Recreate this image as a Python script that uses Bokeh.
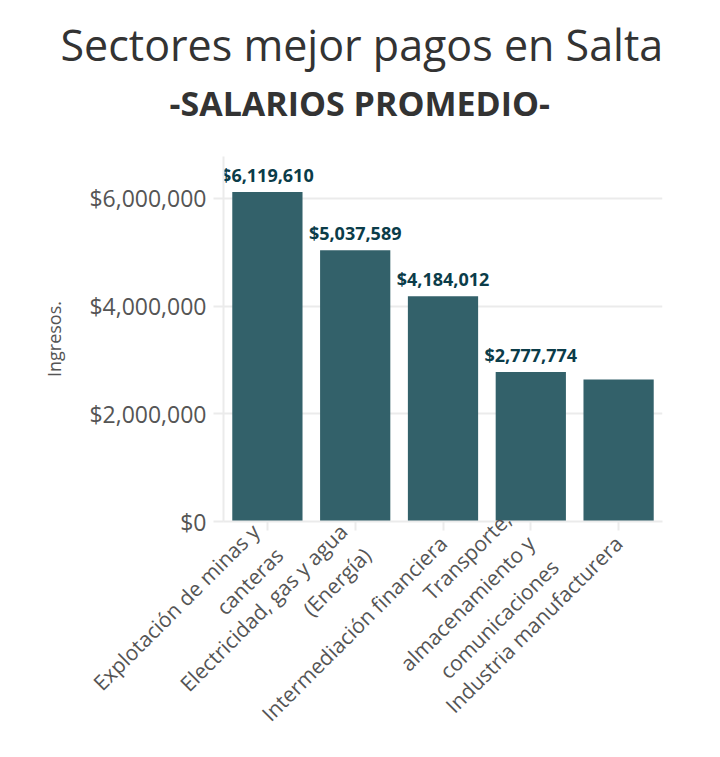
import math
from bokeh.plotting import figure
from bokeh.models import ColumnDataSource, NumeralTickFormatter, Title, FixedTicker, Range1d, FactorRange
from bokeh.core.properties import value
from bokeh.embed import file_html
from bokeh.resources import INLINE

categories = [
    "Explotación de minas y\ncanteras",
    "Electricidad, gas y agua\n(Energía)",
    "Intermediación financiera",
    "Transporte,\nalmacenamiento y\ncomunicaciones",
    "Industria manufacturera",
]
salaries = [6119610, 5037589, 4184012, 2777774, 2640000]
show_label = [True, True, True, True, False]
y_ticks = [0, 2000000, 4000000, 6000000]
title_text = "Sectores mejor pagos en Salta"
subtitle_text = "-SALARIOS PROMEDIO-"
y_label = "Ingresos."

FONT = "Open Sans"
GRAY = "#555555"

# --- helper to right-justify the multi-line rotated tick labels --------------
_W = {" ": .26, ",": .245, "(": .296, ")": .296, "E": .556, "T": .549, "I": .279,
      "a": .556, "c": .482, "d": .613, "e": .561, "g": .547, "i": .253, "í": .253,
      "l": .253, "m": .93, "n": .613, "o": .604, "ó": .604, "p": .613, "r": .408,
      "s": .477, "t": .353, "u": .613, "x": .522, "y": .5, "f": .336}
NBSP_W = .26


def _width(s):
    return sum(_W.get(ch, .55) for ch in s)


def justify_right(label):
    lines = label.split("\n")
    wmax = max(_width(l) for l in lines)
    return "\n".join("\u00a0" * int(round((wmax - _width(l)) / NBSP_W)) + l
                     for l in lines)


display = [justify_right(c) for c in categories]
labels = [f"${v:,}" if s else "" for v, s in zip(salaries, show_label)]
source = ColumnDataSource(dict(cat=display, val=salaries, label=labels))

p = figure(width=720, height=757,
           x_range=FactorRange(factors=display),
           y_range=Range1d(0, 6780000),
           output_backend="svg", toolbar_location=None,
           min_border_left=223, min_border_right=58,
           min_border_top=156, min_border_bottom=236)
p.outline_line_color = None
p.background_fill_color = "white"
p.border_fill_color = "white"

p.add_layout(Title(text=subtitle_text, align="left", offset=-54, text_font=FONT,
                   text_font_size="34px", text_font_style="bold",
                   text_color="#333333", standoff=62), "above")
p.add_layout(Title(text=title_text, align="left", offset=-163, text_font=FONT,
                   text_font_size="43px", text_font_style="normal",
                   text_color="#333333", standoff=-54), "above")

p.vbar(x="cat", top="val", bottom=0, width=0.8, source=source,
       fill_color="#33616a", line_color=None)
p.text(x="cat", y="val", text="label", source=source,
       text_align="center", text_baseline="bottom", y_offset=-5,
       text_font=value(FONT), text_font_size="18px", text_font_style="bold",
       text_color="#0b3c49")

p.xgrid.visible = False
p.ygrid.ticker = FixedTicker(ticks=y_ticks)
p.ygrid.grid_line_color = "#ebebeb"
p.ygrid.grid_line_width = 2

ya = p.yaxis[0]
ya.ticker = FixedTicker(ticks=y_ticks)
ya.formatter = NumeralTickFormatter(format="$0,0")
ya.major_label_text_font = FONT
ya.major_label_text_font_size = "23px"
ya.major_label_text_color = GRAY
ya.axis_line_color = "#ebebeb"
ya.axis_line_width = 2
ya.major_tick_line_color = "#ebebeb"
ya.major_tick_line_width = 2
ya.major_tick_out = 10
ya.major_tick_in = 0
ya.minor_tick_line_color = None
ya.major_label_standoff = 7
ya.axis_label = y_label
ya.axis_label_text_font = FONT
ya.axis_label_text_font_size = "18px"
ya.axis_label_text_font_style = "normal"
ya.axis_label_text_color = GRAY
ya.axis_label_standoff = 20

xa = p.xaxis[0]
xa.major_label_orientation = math.pi / 4
xa.major_label_text_font = FONT
xa.major_label_text_font_size = "21px"
xa.major_label_text_color = GRAY
xa.major_label_text_line_height = 1.2
xa.axis_line_color = "#ebebeb"
xa.axis_line_width = 2
xa.major_tick_line_color = "#ebebeb"
xa.major_tick_line_width = 2
xa.major_tick_out = 9
xa.major_tick_in = 0
xa.major_label_standoff = 9

open("out.html", "w").write(file_html(p, INLINE))
